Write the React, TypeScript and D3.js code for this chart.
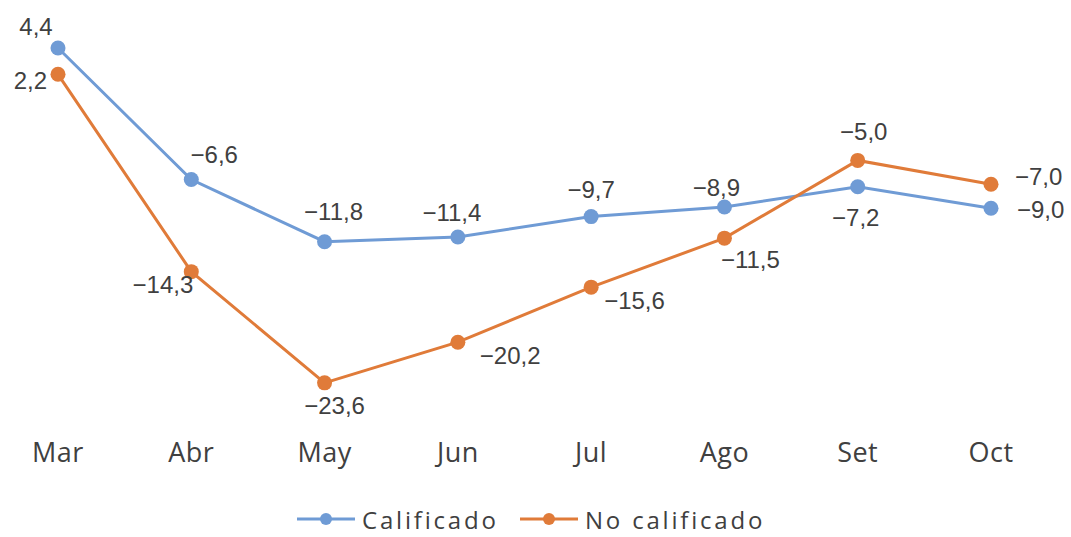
import { useEffect, useRef } from "react";
import * as d3 from "d3";

const MONTHS = ["Mar", "Abr", "May", "Jun", "Jul", "Ago", "Set", "Oct"];
const CALIFICADO = [4.4, -6.6, -11.8, -11.4, -9.7, -8.9, -7.2, -9.0];
const NO_CALIFICADO = [2.2, -14.3, -23.6, -20.2, -15.6, -11.5, -5.0, -7.0];

// label placement per point: [dx, dy, anchor]
const CAL_LABEL_POS: [number, number, string][] = [
  [-22, -13, "middle"],
  [23, -17, "middle"],
  [9, -22, "middle"],
  [-6, -16, "middle"],
  [0, -19, "middle"],
  [-8, -11, "middle"],
  [-2, 39, "middle"],
  [26, 10, "start"],
];
const NOCAL_LABEL_POS: [number, number, string][] = [
  [-11, 15, "end"],
  [2, 21, "end"],
  [10, 31, "middle"],
  [22, 22, "start"],
  [13, 22, "start"],
  [26, 30, "middle"],
  [6, -20, "middle"],
  [24, 1, "start"],
];

const BLUE = "#6f9bd5";
const ORANGE = "#e07b39";
const TEXT = "#404040";

const fmt = d3.formatLocale({
  decimal: ",",
  thousands: ".",
  grouping: [3],
  currency: ["", ""],
  minus: "\u2212",
}).format(".1f");

export default function App() {
  const svgRef = useRef<SVGSVGElement>(null);

  useEffect(() => {
    if (!svgRef.current) return;
    const svg = d3.select(svgRef.current);
    svg.selectAll("*").remove();

    const x = d3.scalePoint<string>().domain(MONTHS).range([58, 991]);
    const y = d3.scaleLinear().domain([-25, 5]).range([399.6, 40.8]);

    const series = [
      { name: "Calificado", values: CALIFICADO, color: BLUE, pos: CAL_LABEL_POS },
      { name: "No calificado", values: NO_CALIFICADO, color: ORANGE, pos: NOCAL_LABEL_POS },
    ];

    const line = d3
      .line<number>()
      .x((_, i) => x(MONTHS[i])!)
      .y((d) => y(d));

    series.forEach((s) => {
      svg
        .append("path")
        .attr("d", line(s.values))
        .attr("fill", "none")
        .attr("stroke", s.color)
        .attr("stroke-width", 3);
      s.values.forEach((v, i) => {
        svg
          .append("circle")
          .attr("cx", x(MONTHS[i])!)
          .attr("cy", y(v))
          .attr("r", 7.5)
          .attr("fill", s.color);
      });
    });

    // data labels
    series.forEach((s) => {
      s.values.forEach((v, i) => {
        const [dx, dy, anchor] = s.pos[i];
        svg
          .append("text")
          .attr("x", x(MONTHS[i])! + dx)
          .attr("y", y(v) + dy)
          .attr("text-anchor", anchor)
          .attr("fill", TEXT)
          .attr("font-size", "24px")
          .attr("font-family", "Liberation Sans, Arial, sans-serif")
          .text(fmt(v));
      });
    });

    // category labels
    MONTHS.forEach((m) => {
      svg
        .append("text")
        .attr("x", x(m)!)
        .attr("y", 462)
        .attr("text-anchor", "middle")
        .attr("fill", TEXT)
        .attr("font-size", "27px")
        .attr("font-family", "Open Sans, sans-serif")
        .attr("letter-spacing", "0.5px")
        .text(m);
    });

    // legend
    const legendItems = [
      { x0: 297, ...series[0] },
      { x0: 520, ...series[1] },
    ];
    legendItems.forEach((l) => {
      const g = svg.append("g").attr("transform", `translate(${l.x0},519)`);
      g.append("line")
        .attr("x1", 0)
        .attr("x2", 58)
        .attr("y1", 0)
        .attr("y2", 0)
        .attr("stroke", l.color)
        .attr("stroke-width", 3);
      g.append("circle").attr("cx", 29).attr("cy", 0).attr("r", 6).attr("fill", l.color);
      g.append("text")
        .attr("x", 65)
        .attr("y", 0)
        .attr("dominant-baseline", "central")
        .attr("fill", TEXT)
        .attr("font-size", "24px")
        .attr("font-family", "Open Sans, sans-serif")
        .attr("letter-spacing", "2.8px")
        .text(l.name);
    });
  }, []);

  return (
    <svg
      ref={svgRef}
      width={1071}
      height={537}
      style={{ position: "absolute", left: 0, top: 0, background: "#fff" }}
    />
  );
}
